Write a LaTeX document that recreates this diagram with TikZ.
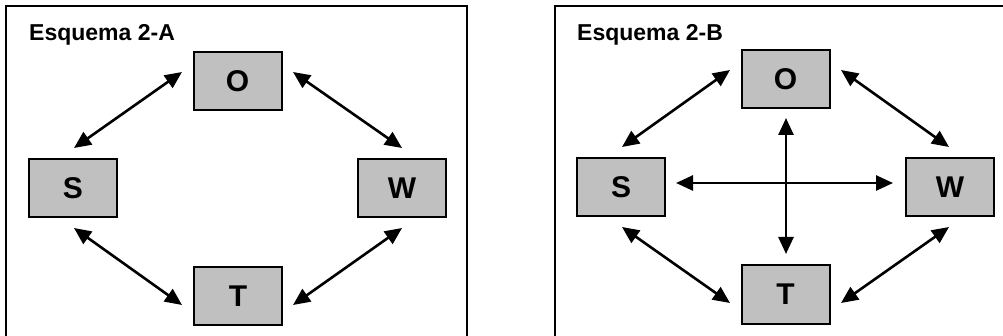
\documentclass[tikz,border=0pt]{standalone}
\usepackage{fontspec}
\setmainfont{Liberation Sans}
\usetikzlibrary{arrows.meta}
\begin{document}
\begin{tikzpicture}[x=1pt,y=-1pt,
  frame/.style={draw=black, line width=2pt},
  swot/.style={draw=black, line width=2pt, fill=swotgray, minimum width=88pt, minimum height=58pt, inner sep=0pt, font=\bfseries\fontsize{30}{30}\selectfont},
  title/.style={anchor=base west, inner sep=0pt, font=\bfseries\fontsize{23}{23}\selectfont},
  dbl/.style={line width=2.6pt, {Triangle[length=17pt,width=15pt]}-{Triangle[length=17pt,width=15pt]}}
]
\definecolor{swotgray}{HTML}{C0C0C0}
\useasboundingbox (0,0) rectangle (1003,336);
% frames
\draw[frame] (6,345) -- (6,6) -- (467,6) -- (467,345);
\draw[frame] (555,345) -- (555,6) -- (1015,6);
% titles
\node[title] (ta) at (29,41) {Esquema 2-A};
\node[title] (tb) at (577,41) {Esquema 2-B};
% left panel boxes
\node[swot] (oa) at (237.5,81.5) {O};
\node[swot] (sa) at (73,188.5) {S};
\node[swot] (wa) at (402,188.5) {W};
\node[swot] (ta2) at (238,296) {T};
% left arrows
\coordinate (a1) at (182,72);  \coordinate (a2) at (74,148);
\coordinate (a3) at (293,72);  \coordinate (a4) at (402,148);
\coordinate (a5) at (74,228);  \coordinate (a6) at (182,305);
\coordinate (a7) at (402,228); \coordinate (a8) at (293,305);
\draw[dbl] (a1) -- (a2);
\draw[dbl] (a3) -- (a4);
\draw[dbl] (a5) -- (a6);
\draw[dbl] (a7) -- (a8);
% right panel boxes
\node[swot] (ob) at (785.5,79.5) {O};
\node[swot] (sb) at (621,187) {S};
\node[swot] (wb) at (950,187) {W};
\node[swot] (tbx) at (785.5,294.5) {T};
% right arrows
\coordinate (b1) at (730,70);  \coordinate (b2) at (622,147);
\coordinate (b3) at (841,70);  \coordinate (b4) at (949,147);
\coordinate (b5) at (622,227); \coordinate (b6) at (730,303);
\coordinate (b7) at (949,227); \coordinate (b8) at (841,303);
\coordinate (v1) at (786,118); \coordinate (v2) at (786,254);
\coordinate (h1) at (676,183); \coordinate (h2) at (893,183);
\draw[dbl] (b1) -- (b2);
\draw[dbl] (b3) -- (b4);
\draw[dbl] (b5) -- (b6);
\draw[dbl] (b7) -- (b8);
\draw[dbl] (v1) -- (v2);
\draw[dbl] (h1) -- (h2);
\end{tikzpicture}
\end{document}
